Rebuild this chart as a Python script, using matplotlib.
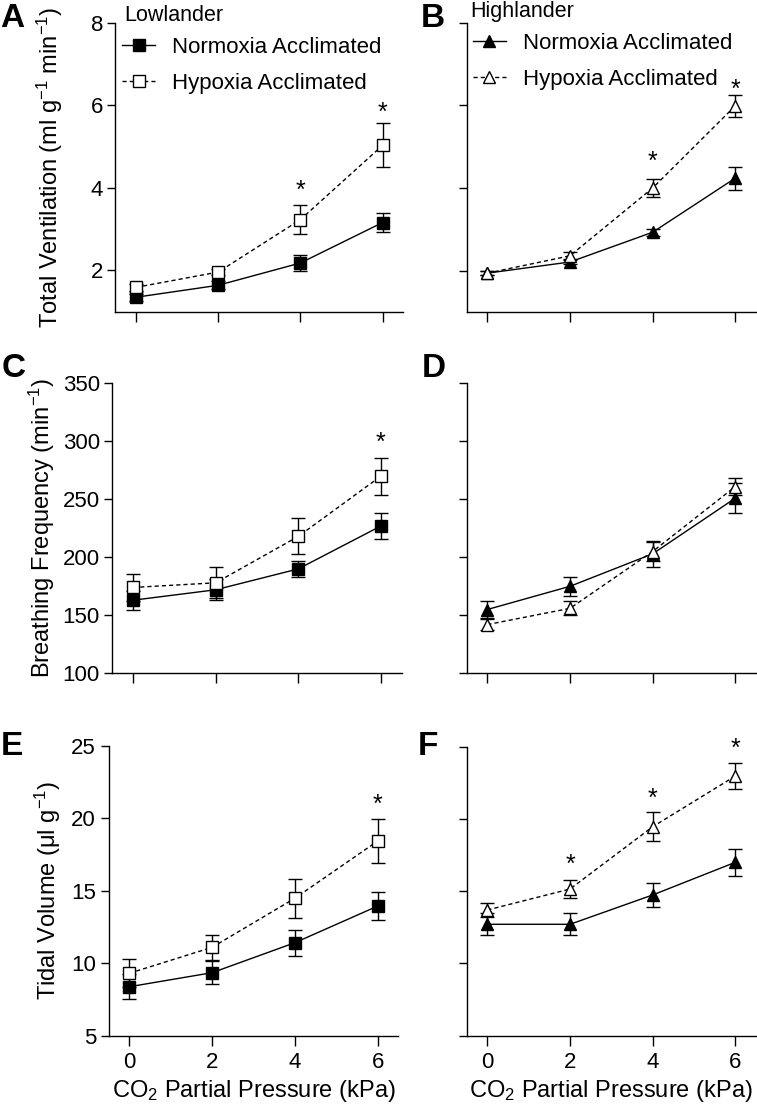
import matplotlib
matplotlib.use('Agg')
import matplotlib.pyplot as plt

plt.rcParams['font.family'] = ['Liberation Sans', 'DejaVu Sans']
plt.rcParams['mathtext.fontset'] = 'custom'
plt.rcParams['mathtext.rm'] = 'Liberation Sans'
plt.rcParams['mathtext.it'] = 'Liberation Sans:italic'
plt.rcParams['mathtext.bf'] = 'Liberation Sans:bold'
plt.rcParams['mathtext.default'] = 'regular'

# CO2 partial pressure (kPa)
co2 = [0, 2, 4, 6]

# Total ventilation (ml g-1 min-1)
vent_low_norm = [1.35, 1.64, 2.18, 3.16]
vent_low_norm_err = [0.08, 0.10, 0.19, 0.24]
vent_low_hyp = [1.59, 1.96, 3.23, 5.03]
vent_low_hyp_err = [0.08, 0.08, 0.36, 0.53]
vent_high_norm = [1.94, 2.21, 2.93, 4.24]
vent_high_norm_err = [0.05, 0.06, 0.08, 0.28]
vent_high_hyp = [1.94, 2.36, 4.00, 5.99]
vent_high_hyp_err = [0.05, 0.08, 0.22, 0.27]

# Breathing frequency (min-1)
freq_low_norm = [163, 172, 190, 227]
freq_low_norm_err = [8, 9, 7, 11]
freq_low_hyp = [174, 178, 218, 270]
freq_low_hyp_err = [11.5, 13.5, 15.5, 16]
freq_high_norm = [155, 175, 203, 251]
freq_high_norm_err = [7, 8, 11, 13]
freq_high_hyp = [142, 156, 205, 261]
freq_high_hyp_err = [5, 6, 8, 7]

# Tidal volume (ul g-1)
tv_low_norm = [8.38, 9.35, 11.42, 13.95]
tv_low_norm_err = [0.85, 0.80, 0.90, 0.97]
tv_low_hyp = [9.31, 11.10, 14.49, 18.44]
tv_low_hyp_err = [0.96, 0.85, 1.33, 1.50]
tv_high_norm = [12.71, 12.71, 14.74, 17.00]
tv_high_norm_err = [0.77, 0.75, 0.80, 0.95]
tv_high_hyp = [13.70, 15.15, 19.46, 22.97]
tv_high_hyp_err = [0.50, 0.60, 1.00, 0.90]

# significance stars (CO2, y)
stars_A = [(4, 4.09), (6, 5.99)]
stars_B = [(4, 4.80), (6, 6.55)]
stars_C = [(6, 304.6)]
stars_D = []
stars_E = [(6, 21.4)]
stars_F = [(2, 17.28), (4, 21.9), (6, 25.35)]

W, H = 757, 1105
fig = plt.figure(figsize=(W / 100, H / 100), dpi=100)


def add_axes(x0, x1, ytop, ybot):
    return fig.add_axes([x0 / W, 1 - ybot / H, (x1 - x0) / W, (ybot - ytop) / H])


def panel(ax, norm, norm_err, hyp, hyp_err, marker, ylim, yticks, stars,
          show_ylabels, show_xlabels):
    ax.errorbar(co2, norm, yerr=norm_err, fmt='none', ecolor='black',
                elinewidth=1.0, capsize=4.7, capthick=1.0, zorder=2)
    l1, = ax.plot(co2, norm, color='black', lw=1.0, marker=marker, ms=9,
                  mfc='black', mec='black', mew=1.0, zorder=3,
                  label='Normoxia Acclimated')
    ax.errorbar(co2, hyp, yerr=hyp_err, fmt='none', ecolor='black',
                elinewidth=1.0, capsize=4.7, capthick=1.0, zorder=4)
    l2, = ax.plot(co2, hyp, color='black', lw=1.0, ls=(0, (3, 2.2)),
                  marker=marker, ms=9, mfc='white', mec='black', mew=1.0,
                  zorder=5, label='Hypoxia Acclimated')
    for sx, sy in stars:
        ax.annotate('*', xy=(sx, sy), xytext=(0, -10), textcoords='offset points',
                    ha='center', va='baseline', fontsize=18,
                    annotation_clip=False)
    ax.set_xlim(-0.5, 6.5)
    ax.set_ylim(*ylim)
    ax.set_xticks(co2)
    ax.set_yticks(yticks)
    for s in ['top', 'right']:
        ax.spines[s].set_visible(False)
    for s in ['left', 'bottom']:
        ax.spines[s].set_linewidth(1.0)
    ax.tick_params(axis='y', direction='out', length=6, width=1.0, pad=3,
                   labelsize=16, labelleft=show_ylabels)
    ax.tick_params(axis='x', direction='out', length=7, width=1.0, pad=5,
                   labelsize=16, labelbottom=show_xlabels)
    return l1, l2


axA = add_axes(115.4, 403.2, 22.7, 311.7)
axB = add_axes(466.7, 756.0, 22.7, 312.0)
axC = add_axes(112.3, 401.6, 383.3, 673.3)
axD = add_axes(466.7, 756.0, 383.3, 673.3)
axE = add_axes(108.6, 398.4, 746.0, 1035.7)
axF = add_axes(466.7, 756.0, 746.7, 1035.7)

hA = panel(axA, vent_low_norm, vent_low_norm_err, vent_low_hyp, vent_low_hyp_err,
           's', (1, 8), [2, 4, 6, 8], stars_A, True, False)
hB = panel(axB, vent_high_norm, vent_high_norm_err, vent_high_hyp, vent_high_hyp_err,
           '^', (1, 8), [2, 4, 6, 8], stars_B, False, False)
panel(axC, freq_low_norm, freq_low_norm_err, freq_low_hyp, freq_low_hyp_err,
      's', (100, 350), [100, 150, 200, 250, 300, 350], stars_C, True, False)
panel(axD, freq_high_norm, freq_high_norm_err, freq_high_hyp, freq_high_hyp_err,
      '^', (100, 350), [100, 150, 200, 250, 300, 350], stars_D, False, False)
panel(axE, tv_low_norm, tv_low_norm_err, tv_low_hyp, tv_low_hyp_err,
      's', (5, 25), [5, 10, 15, 20, 25], stars_E, True, True)
panel(axF, tv_high_norm, tv_high_norm_err, tv_high_hyp, tv_high_hyp_err,
      '^', (5, 25), [5, 10, 15, 20, 25], stars_F, False, True)

axA.set_ylabel('Total Ventilation (ml g$^{-1}$ min$^{-1}$)', fontsize=17)
axA.yaxis.set_label_coords(-0.175, 0.5)
axC.set_ylabel('Breathing Frequency (min$^{-1}$)', fontsize=17)
axC.yaxis.set_label_coords(-0.1925, 0.5)
axE.set_ylabel('Tidal Volume (\u03bcl g$^{-1}$)', fontsize=17)
axE.yaxis.set_label_coords(-0.157, 0.5)
for ax in (axE, axF):
    ax.set_xlabel('CO$_2$ Partial Pressure (kPa)', fontsize=17, labelpad=3.5)

# legends and group titles
fig.text(124 / W, 1 - 20.7 / H, 'Lowlander', fontsize=15.5, va='baseline')
fig.text(470.7 / W, 1 - 16.7 / H, 'Highlander', fontsize=15.5, va='baseline')
for ax, h, x, y in [(axA, hA, 122, 37), (axB, hB, 472.7, 33)]:
    ax.legend(handles=list(h), loc='upper left', bbox_to_anchor=(x / W, 1 - y / H),
              bbox_transform=fig.transFigure, frameon=False, fontsize=16,
              handlelength=1.5, handletextpad=0.77, labelspacing=0.68,
              borderpad=0, borderaxespad=0, numpoints=1)

# panel letters
for letter, x, y in [('A', 0, 27), ('B', 421, 27), ('C', 2, 377), ('D', 422, 377),
                     ('E', 1, 755), ('F', 418, 755)]:
    fig.text(x / W, 1 - y / H, letter, fontsize=24, fontweight='bold', va='baseline')

fig.savefig('out.png', dpi=100)
